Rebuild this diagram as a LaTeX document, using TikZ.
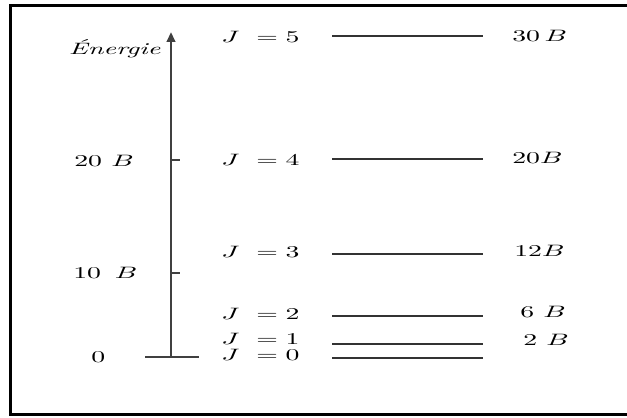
\documentclass[tikz,border=0pt]{standalone}
\usetikzlibrary{arrows.meta}
\newcommand\sx[1]{\scalebox{1.85}[1.1]{#1}}
\tikzset{
  frame/.style={draw=black, line width=1.5pt},
  axisline/.style={draw=black!75, line width=1.6pt},
  lvl/.style={draw=black!80, line width=0.9pt},
  tickline/.style={draw=black!75, line width=0.8pt},
  lbl/.style={anchor=base west, inner sep=0pt, text=black},
  lblr/.style={anchor=base east, inner sep=0pt, text=black},
}
\begin{document}
\begin{tikzpicture}[x=0.6667pt,y=-0.6667pt]
\useasboundingbox (0,0) rectangle (627,417);
\clip (0,0) rectangle (627,417);
% frame (right side lies outside the picture)
\draw[frame] (10.5,5.5) rectangle (660,414.5);

% axis
\coordinate (ax0) at (171,357);
\coordinate (axtop) at (171,32);
\coordinate (bL) at (145,357);
\coordinate (bR) at (199,357);
\draw[axisline, -{Triangle[length=6.5pt,width=5.5pt]}] (ax0) -- (axtop);
\draw[tickline, line width=1.1pt] (bL) -- (bR);
\coordinate (t20a) at (171,160); \coordinate (t20b) at (180,160);
\coordinate (t10a) at (171,273); \coordinate (t10b) at (180,273);
\draw[tickline] (t20a) -- (t20b);
\draw[tickline] (t10a) -- (t10b);

% axis labels
\node[lblr] (en) at (161,54) {\sx{\textit{Énergie}}};
\node[lbl] (l20) at (74,166) {\sx{20 $B$}};
\node[lbl] (l10) at (73,278) {\sx{10 \,$B$}};
\node[lbl] (l0) at (91,362) {\sx{0}};

% levels
\foreach \n/\y in {5/36,4/159,3/254,2/316,1/344,0/358}{
  \coordinate (a\n) at (332,\y);
  \coordinate (b\n) at (483,\y);
  \draw[lvl] (a\n) -- (b\n);
}

% J labels
\node[lbl] (j5) at (221,42) {\sx{$J\ = 5$}};
\node[lbl] (j4) at (221,165) {\sx{$J\ = 4$}};
\node[lbl] (j3) at (221,257) {\sx{$J\ = 3$}};
\node[lbl] (j2) at (221,319) {\sx{$J\ = 2$}};
\node[lbl] (j1) at (221,344) {\sx{$J\ = 1$}};
\node[lbl] (j0) at (221,360) {\sx{$J\ = 0$}};

% energies
\node[lbl] (e5) at (512,41) {\sx{30\,$B$}};
\node[lbl] (e4) at (512,163) {\sx{20$B$}};
\node[lbl] (e3) at (514,256) {\sx{12$B$}};
\node[lbl] (e2) at (520,317) {\sx{6 $B$}};
\node[lbl] (e1) at (523,345) {\sx{2 $B$}};
\end{tikzpicture}
\end{document}
